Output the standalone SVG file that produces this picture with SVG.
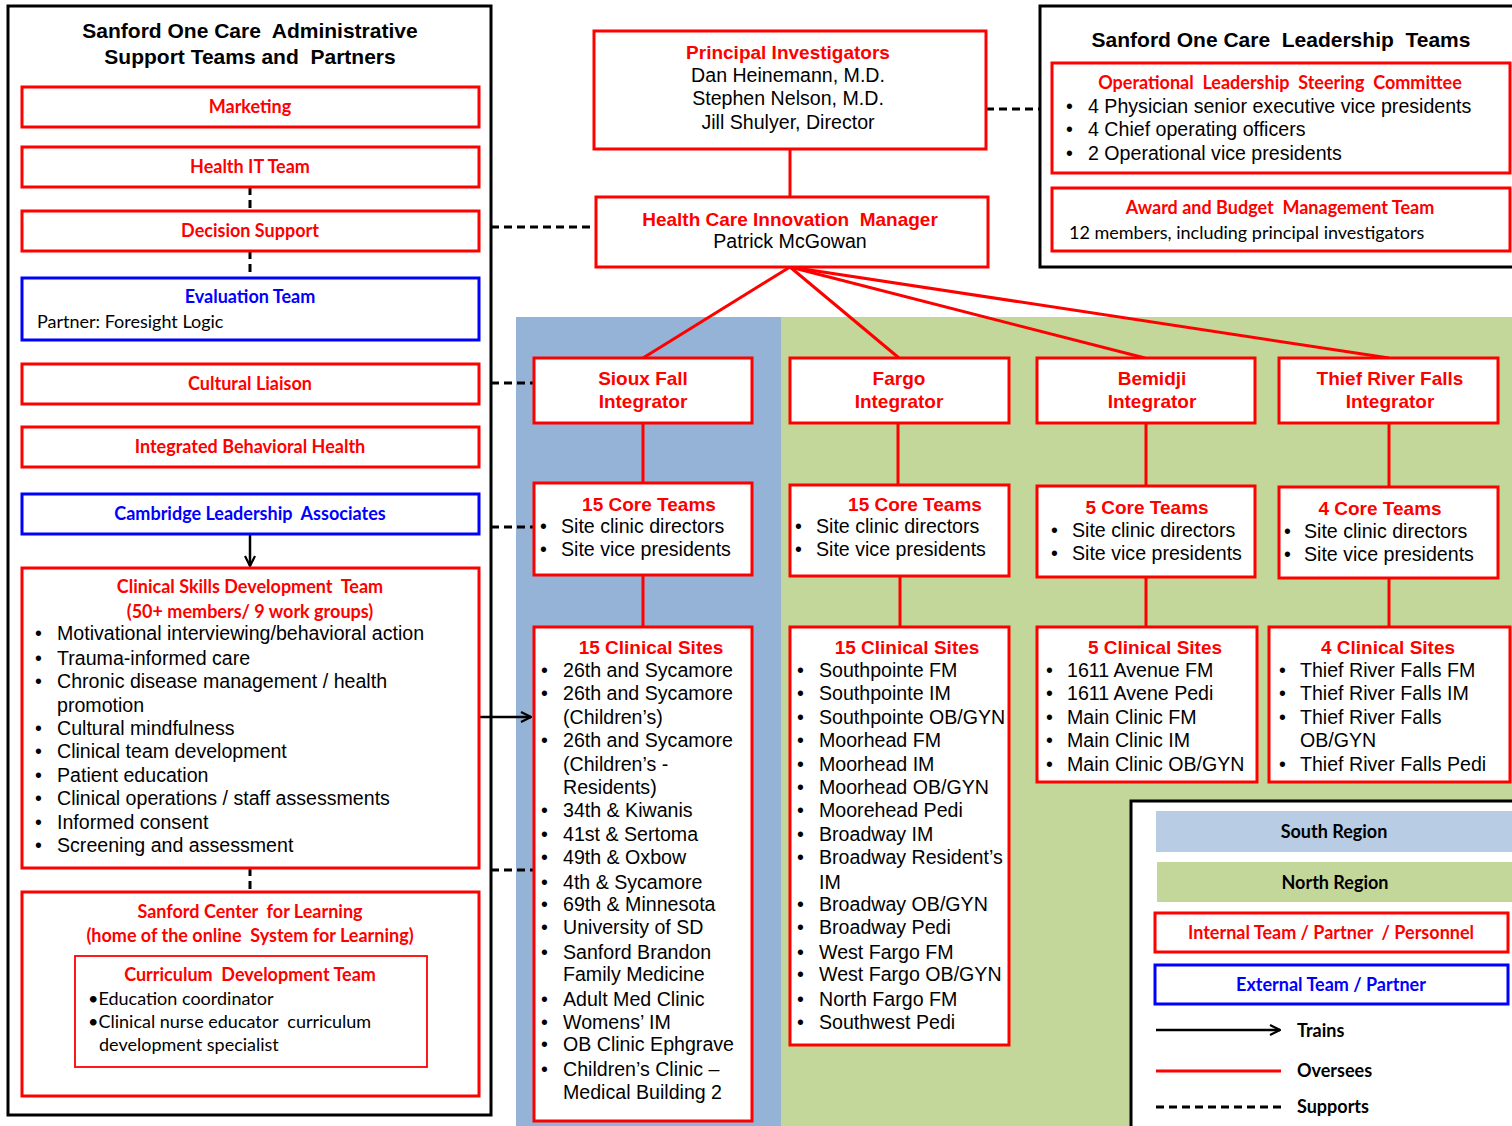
<svg xmlns="http://www.w3.org/2000/svg" width="1512" height="1126" viewBox="0 0 1512 1126">
<style>
text{white-space:pre}
.bg{fill:#ffffff}
.outer{fill:#ffffff;stroke:#000;stroke-width:3}
.rbox{fill:#ffffff;stroke:#ff0000;stroke-width:3}
.bbox{fill:#ffffff;stroke:#0000ff;stroke-width:3}
.rthin{fill:none;stroke:#ff0000;stroke-width:1.8}
.red{stroke:#ff0000;stroke-width:3;fill:none}
.dash{stroke:#000;stroke-width:3;stroke-dasharray:8 5;fill:none}
.arr{stroke:#000;stroke-width:2.5;fill:none}
.ttl{font-family:"Liberation Sans",Arial,sans-serif;font-weight:bold;font-size:21px;fill:#000;text-anchor:middle}
.ah{font-family:"Liberation Sans",Arial,sans-serif;font-weight:bold;font-size:19px;fill:#ff0000;text-anchor:middle}
.at{font-family:"Liberation Sans",Arial,sans-serif;font-size:19.6px;fill:#000}
.atc{font-family:"Liberation Sans",Arial,sans-serif;font-size:19.6px;fill:#000;text-anchor:middle}
.ch{font-family:Lato,"Open Sans",sans-serif;font-weight:bold;font-size:18px;fill:#ff0000;text-anchor:middle}
.cb{font-family:Lato,"Open Sans",sans-serif;font-weight:bold;font-size:18px;fill:#0000ff;text-anchor:middle}
.ck{font-family:Lato,"Open Sans",sans-serif;font-weight:bold;font-size:18px;fill:#000}
.ckc{font-family:Lato,"Open Sans",sans-serif;font-weight:bold;font-size:18px;fill:#000;text-anchor:middle}
.ct{font-family:Lato,"Open Sans",sans-serif;font-size:18px;fill:#000}
</style>
<defs>
<marker id="chev" viewBox="0 0 12 12" refX="11" refY="6" markerWidth="12" markerHeight="12" markerUnits="userSpaceOnUse" orient="auto">
<path d="M1,1 L11,6 L1,11" fill="none" stroke="#000" stroke-width="2.2"/>
</marker>
</defs>
<rect class="bg" x="0" y="0" width="1512" height="1126"/>

<!-- regions -->
<g id="regions">
<rect x="516" y="317" width="265" height="809" fill="#95b3d7"/>
<rect x="781" y="317" width="731" height="809" fill="#c4d79b"/>
</g>

<!-- left admin panel -->
<g id="admin-panel">
<rect class="outer" x="8" y="6" width="483" height="1109"/>
<text class="ttl" x="250" y="38">Sanford One Care  Administrative</text>
<text class="ttl" x="250" y="64">Support Teams and  Partners</text>
</g>

<!-- leadership panel -->
<g id="leadership-panel">
<rect class="outer" x="1040" y="6" width="476" height="261"/>
<text class="ttl" x="1281" y="47">Sanford One Care  Leadership  Teams</text>
</g>

<!-- connectors -->
<g id="connectors">
<line class="dash" x1="250" y1="187" x2="250" y2="211"/>
<line class="dash" x1="250" y1="251" x2="250" y2="278"/>
<line class="dash" x1="250" y1="868" x2="250" y2="892"/>
<line class="dash" x1="491" y1="227" x2="596" y2="227"/>
<line class="dash" x1="986" y1="109" x2="1040" y2="109"/>
<line class="dash" x1="491" y1="383" x2="534" y2="383"/>
<line class="dash" x1="491" y1="527" x2="534" y2="527"/>
<line class="dash" x1="491" y1="870" x2="534" y2="870"/>
<line class="arr" x1="250" y1="534" x2="250" y2="566" marker-end="url(#chev)"/>
<line class="arr" x1="479" y1="717" x2="531" y2="717" marker-end="url(#chev)"/>
<line class="red" x1="790" y1="149" x2="790" y2="197"/>
<line class="red" x1="790" y1="267" x2="643" y2="358"/>
<line class="red" x1="790" y1="267" x2="899" y2="358"/>
<line class="red" x1="790" y1="267" x2="1145" y2="358"/>
<line class="red" x1="790" y1="267" x2="1389" y2="358"/>
<line class="red" x1="643" y1="423" x2="643" y2="483"/>
<line class="red" x1="643" y1="575" x2="643" y2="627"/>
<line class="red" x1="898" y1="423" x2="898" y2="485"/>
<line class="red" x1="900" y1="576" x2="900" y2="627"/>
<line class="red" x1="1146" y1="423" x2="1146" y2="486"/>
<line class="red" x1="1146" y1="577" x2="1146" y2="627"/>
<line class="red" x1="1389" y1="423" x2="1389" y2="487"/>
<line class="red" x1="1389" y1="578" x2="1389" y2="627"/>
</g>

<g id="marketing">
<rect class="rbox" x="22" y="87" width="457" height="40"/>
<text class="ch" x="250" y="113">Marketing</text>
</g>
<g id="health-it">
<rect class="rbox" x="22" y="147" width="457" height="40"/>
<text class="ch" x="250" y="173">Health IT Team</text>
</g>
<g id="decision-support">
<rect class="rbox" x="22" y="211" width="457" height="40"/>
<text class="ch" x="250" y="237">Decision Support</text>
</g>
<g id="evaluation-team">
<rect class="bbox" x="22" y="278" width="457" height="62"/>
<text class="cb" x="250" y="303">Evaluation Team</text>
<text class="ct" x="37" y="328">Partner: Foresight Logic</text>
</g>
<g id="cultural-liaison">
<rect class="rbox" x="22" y="364" width="457" height="40"/>
<text class="ch" x="250" y="390">Cultural Liaison</text>
</g>
<g id="integrated-bh">
<rect class="rbox" x="22" y="427" width="457" height="40"/>
<text class="ch" x="250" y="453">Integrated Behavioral Health</text>
</g>
<g id="cambridge">
<rect class="bbox" x="22" y="494" width="457" height="40"/>
<text class="cb" x="250" y="520">Cambridge Leadership  Associates</text>
</g>
<g id="clinical-skills">
<rect class="rbox" x="22" y="568" width="457" height="300"/>
<text class="ch" x="250" y="593">Clinical Skills Development  Team</text>
<text class="ch" x="250" y="618">(50+ members/ 9 work groups)</text>
<g class="at">
<text x="35" y="640">•</text><text x="57" y="640">Motivational interviewing/behavioral action</text>
<text x="35" y="665">•</text><text x="57" y="665">Trauma-informed care</text>
<text x="35" y="688">•</text><text x="57" y="688">Chronic disease management / health</text>
<text x="57" y="712">promotion</text>
<text x="35" y="735">•</text><text x="57" y="735">Cultural mindfulness</text>
<text x="35" y="758">•</text><text x="57" y="758">Clinical team development</text>
<text x="35" y="782">•</text><text x="57" y="782">Patient education</text>
<text x="35" y="805">•</text><text x="57" y="805">Clinical operations / staff assessments</text>
<text x="35" y="829">•</text><text x="57" y="829">Informed consent</text>
<text x="35" y="852">•</text><text x="57" y="852">Screening and assessment</text>
</g>
</g>
<g id="sanford-center">
<rect class="rbox" x="22" y="892" width="457" height="204"/>
<text class="ch" x="250" y="918">Sanford Center  for Learning</text>
<text class="ch" x="250" y="942">(home of the online  System for Learning)</text>
</g>
<g id="curriculum">
<rect class="rthin" x="75" y="956" width="352" height="111"/>
<text class="ch" x="250" y="981">Curriculum  Development Team</text>
<text class="ct" x="88" y="1005">•Education coordinator</text>
<text class="ct" x="88" y="1028">•Clinical nurse educator  curriculum</text>
<text class="ct" x="99" y="1051">development specialist</text>
</g>

<g id="principal-investigators">
<rect class="rbox" x="594" y="31" width="392" height="118"/>
<text class="ah" x="788" y="59">Principal Investigators</text>
<text class="atc" x="788" y="82">Dan Heinemann, M.D.</text>
<text class="atc" x="788" y="105">Stephen Nelson, M.D.</text>
<text class="atc" x="788" y="129">Jill Shulyer, Director</text>
</g>
<g id="hci-manager">
<rect class="rbox" x="596" y="197" width="392" height="70"/>
<text class="ah" x="790" y="226">Health Care Innovation  Manager</text>
<text class="atc" x="790" y="248">Patrick McGowan</text>
</g>

<g id="olsc">
<rect class="rbox" x="1052" y="63" width="458" height="110"/>
<text class="ch" x="1280" y="89">Operational  Leadership  Steering  Committee</text>
<g class="at">
<text x="1066" y="113">•</text><text x="1088" y="113">4 Physician senior executive vice presidents</text>
<text x="1066" y="136">•</text><text x="1088" y="136">4 Chief operating officers</text>
<text x="1066" y="160">•</text><text x="1088" y="160">2 Operational vice presidents</text>
</g>
</g>
<g id="abmt">
<rect class="rbox" x="1052" y="188" width="458" height="63"/>
<text class="ch" x="1280" y="214">Award and Budget  Management Team</text>
<text class="ct" x="1069" y="239">12 members, including principal investigators</text>
</g>

<g id="sioux-integrator">
<rect class="rbox" x="534" y="358" width="218" height="65"/>
<text class="ah" x="643" y="385">Sioux Fall</text>
<text class="ah" x="643" y="408">Integrator</text>
</g>
<g id="fargo-integrator">
<rect class="rbox" x="790" y="358" width="219" height="65"/>
<text class="ah" x="899" y="385">Fargo</text>
<text class="ah" x="899" y="408">Integrator</text>
</g>
<g id="bemidji-integrator">
<rect class="rbox" x="1037" y="358" width="218" height="65"/>
<text class="ah" x="1152" y="385">Bemidji</text>
<text class="ah" x="1152" y="408">Integrator</text>
</g>
<g id="thief-integrator">
<rect class="rbox" x="1279" y="358" width="219" height="65"/>
<text class="ah" x="1390" y="385">Thief River Falls</text>
<text class="ah" x="1390" y="408">Integrator</text>
</g>

<g id="sioux-core">
<rect class="rbox" x="534" y="483" width="218" height="92"/>
<text class="ah" x="649" y="511">15 Core Teams</text>
<g class="at">
<text x="540" y="533">•</text><text x="561" y="533">Site clinic directors</text>
<text x="540" y="556">•</text><text x="561" y="556">Site vice presidents</text>
</g>
</g>
<g id="fargo-core">
<rect class="rbox" x="790" y="485" width="219" height="91"/>
<text class="ah" x="915" y="511">15 Core Teams</text>
<g class="at">
<text x="795" y="533">•</text><text x="816" y="533">Site clinic directors</text>
<text x="795" y="556">•</text><text x="816" y="556">Site vice presidents</text>
</g>
</g>
<g id="bemidji-core">
<rect class="rbox" x="1037" y="486" width="218" height="91"/>
<text class="ah" x="1147" y="514">5 Core Teams</text>
<g class="at">
<text x="1051" y="537">•</text><text x="1072" y="537">Site clinic directors</text>
<text x="1051" y="560">•</text><text x="1072" y="560">Site vice presidents</text>
</g>
</g>
<g id="thief-core">
<rect class="rbox" x="1279" y="487" width="219" height="91"/>
<text class="ah" x="1380" y="515">4 Core Teams</text>
<g class="at">
<text x="1284" y="538">•</text><text x="1304" y="538">Site clinic directors</text>
<text x="1284" y="561">•</text><text x="1304" y="561">Site vice presidents</text>
</g>
</g>

<g id="sioux-sites">
<rect class="rbox" x="534" y="627" width="218" height="494"/>
<text class="ah" x="651" y="654">15 Clinical Sites</text>
<g class="at">
<text x="541" y="677">•</text><text x="563" y="677">26th and Sycamore</text>
<text x="541" y="700">•</text><text x="563" y="700">26th and Sycamore</text>
<text x="563" y="724">(Children’s)</text>
<text x="541" y="747">•</text><text x="563" y="747">26th and Sycamore</text>
<text x="563" y="771">(Children’s -</text>
<text x="563" y="794">Residents)</text>
<text x="541" y="817">•</text><text x="563" y="817">34th &amp; Kiwanis</text>
<text x="541" y="841">•</text><text x="563" y="841">41st &amp; Sertoma</text>
<text x="541" y="864">•</text><text x="563" y="864">49th &amp; Oxbow</text>
<text x="541" y="889">•</text><text x="563" y="889">4th &amp; Sycamore</text>
<text x="541" y="911">•</text><text x="563" y="911">69th &amp; Minnesota</text>
<text x="541" y="934">•</text><text x="563" y="934">University of SD</text>
<text x="541" y="959">•</text><text x="563" y="959">Sanford Brandon</text>
<text x="563" y="981">Family Medicine</text>
<text x="541" y="1006">•</text><text x="563" y="1006">Adult Med Clinic</text>
<text x="541" y="1029">•</text><text x="563" y="1029">Womens’ IM</text>
<text x="541" y="1051">•</text><text x="563" y="1051">OB Clinic Ephgrave</text>
<text x="541" y="1076">•</text><text x="563" y="1076">Children’s Clinic –</text>
<text x="563" y="1099">Medical Building 2</text>
</g>
</g>
<g id="fargo-sites">
<rect class="rbox" x="790" y="627" width="219" height="418"/>
<text class="ah" x="907" y="654">15 Clinical Sites</text>
<g class="at">
<text x="797" y="677">•</text><text x="819" y="677">Southpointe FM</text>
<text x="797" y="700">•</text><text x="819" y="700">Southpointe IM</text>
<text x="797" y="724">•</text><text x="819" y="724">Southpointe OB/GYN</text>
<text x="797" y="747">•</text><text x="819" y="747">Moorhead FM</text>
<text x="797" y="771">•</text><text x="819" y="771">Moorhead IM</text>
<text x="797" y="794">•</text><text x="819" y="794">Moorhead OB/GYN</text>
<text x="797" y="817">•</text><text x="819" y="817">Moorehead Pedi</text>
<text x="797" y="841">•</text><text x="819" y="841">Broadway IM</text>
<text x="797" y="864">•</text><text x="819" y="864">Broadway Resident’s</text>
<text x="819" y="889">IM</text>
<text x="797" y="911">•</text><text x="819" y="911">Broadway OB/GYN</text>
<text x="797" y="934">•</text><text x="819" y="934">Broadway Pedi</text>
<text x="797" y="959">•</text><text x="819" y="959">West Fargo FM</text>
<text x="797" y="981">•</text><text x="819" y="981">West Fargo OB/GYN</text>
<text x="797" y="1006">•</text><text x="819" y="1006">North Fargo FM</text>
<text x="797" y="1029">•</text><text x="819" y="1029">Southwest Pedi</text>
</g>
</g>
<g id="bemidji-sites">
<rect class="rbox" x="1037" y="627" width="220" height="155"/>
<text class="ah" x="1155" y="654">5 Clinical Sites</text>
<g class="at">
<text x="1046" y="677">•</text><text x="1067" y="677">1611 Avenue FM</text>
<text x="1046" y="700">•</text><text x="1067" y="700">1611 Avene Pedi</text>
<text x="1046" y="724">•</text><text x="1067" y="724">Main Clinic FM</text>
<text x="1046" y="747">•</text><text x="1067" y="747">Main Clinic IM</text>
<text x="1046" y="771">•</text><text x="1067" y="771">Main Clinic OB/GYN</text>
</g>
</g>
<g id="thief-sites">
<rect class="rbox" x="1269" y="627" width="241" height="155"/>
<text class="ah" x="1388" y="654">4 Clinical Sites</text>
<g class="at">
<text x="1279" y="677">•</text><text x="1300" y="677">Thief River Falls FM</text>
<text x="1279" y="700">•</text><text x="1300" y="700">Thief River Falls IM</text>
<text x="1279" y="724">•</text><text x="1300" y="724">Thief River Falls</text>
<text x="1300" y="747">OB/GYN</text>
<text x="1279" y="771">•</text><text x="1300" y="771">Thief River Falls Pedi</text>
</g>
</g>

<g id="legend">
<rect class="outer" x="1131" y="801" width="390" height="335"/>
<rect x="1156" y="811" width="356" height="41" fill="#b8cce4"/>
<text class="ckc" x="1334" y="838">South Region</text>
<rect x="1157" y="862" width="355" height="40" fill="#c4d79b"/>
<text class="ckc" x="1335" y="889">North Region</text>
<rect class="rbox" x="1155" y="913" width="353" height="39"/>
<text class="ch" x="1331" y="939">Internal Team / Partner  / Personnel</text>
<rect class="bbox" x="1155" y="965" width="353" height="39"/>
<text class="cb" x="1331" y="991">External Team / Partner</text>
<line class="arr" x1="1156" y1="1030" x2="1280" y2="1030" marker-end="url(#chev)"/>
<text class="ck" x="1297" y="1037">Trains</text>
<line class="red" x1="1156" y1="1071" x2="1281" y2="1071"/>
<text class="ck" x="1297" y="1077">Oversees</text>
<line class="dash" x1="1156" y1="1107" x2="1281" y2="1107"/>
<text class="ck" x="1297" y="1113">Supports</text>
</g>
</svg>
